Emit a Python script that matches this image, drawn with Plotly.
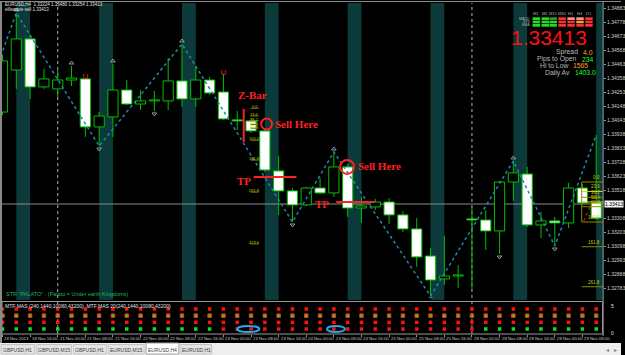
import plotly.graph_objects as go

W, H = 625, 355
def fx(px): return px / W
def fy(py): return 1 - py / H

# ---------------- data ----------------
opens = [1.34103,1.34418,1.34651,1.34291,1.34276,1.34343,1.34351,1.33991,1.34066,1.34268,1.34163,1.34186,1.34186,1.34336,1.34201,1.34343,1.34253,1.34043,1.34036,1.33961,1.33661,1.33511,1.33406,1.33533,1.33496,1.33691,1.33383,1.33391,1.33428,1.33331,1.33226,1.33023,1.32851,1.32873,1.33301,1.33293,1.33211,1.33578,1.33638,1.33256,1.33286,1.33271,1.33533,1.33421]
highs = [1.34531,1.34846,1.34681,1.34426,1.34418,1.34448,1.34358,1.34103,1.34463,1.34343,1.34268,1.34261,1.34508,1.34613,1.34441,1.34366,1.34388,1.34111,1.34051,1.33983,1.33773,1.33533,1.33541,1.33608,1.33803,1.33713,1.33466,1.33451,1.33458,1.33361,1.33308,1.33083,1.33173,1.32956,1.33391,1.33368,1.33586,1.33736,1.33691,1.33353,1.33316,1.33571,1.33563,1.33931]
lows = [1.34081,1.34276,1.34201,1.34276,1.34208,1.34298,1.33916,1.33848,1.33916,1.34156,1.34118,1.34111,1.34118,1.34141,1.34141,1.34231,1.34043,1.33968,1.33946,1.33653,1.33331,1.33278,1.33398,1.33488,1.33466,1.33316,1.33271,1.33368,1.33263,1.33203,1.32941,1.32723,1.32806,1.32783,1.32768,1.33068,1.33038,1.33436,1.33241,1.33158,1.33098,1.33233,1.33406,1.33293]
closes = [1.34486,1.34651,1.34291,1.34351,1.34343,1.34358,1.33991,1.34073,1.34268,1.34163,1.34186,1.34186,1.34336,1.34201,1.34343,1.34246,1.34051,1.34036,1.33961,1.33668,1.33511,1.33406,1.33533,1.33496,1.33691,1.33383,1.33398,1.33428,1.33331,1.33226,1.33016,1.32843,1.32873,1.32873,1.33293,1.33211,1.33578,1.33646,1.33256,1.33286,1.33271,1.33533,1.33421,1.33308]
bid = 1.33413

zz_idx = [-1, 1, 7, 13, 21, 24, 31, 37, 40, 43]
zz_price = [1.34268, 1.34846, 1.33848, 1.34613, 1.33278, 1.33803, 1.32723, 1.33736, 1.33098, 1.33931]
fr_up = [1, 5, 8, 13, 24, 37]
fr_dn = [7, 11, 21, 31, 36, 40]
signal_up = [6, 16]
session_bands = [1, 7, 13, 19, 25, 31, 37, 43]
separators = [4, 34]

fib_ratios1 = [0.0, 23.6, 38.2, 50.0, 61.8, 100.0, 161.8, 261.8, 423.6]
fib1_p0, fib1_p100, fib1_x = 1.34141, 1.33901, 18.26
fib_ratios2 = [0.0, 23.6, 38.2, 50.0, 61.8, 100.0, 161.8, 261.8]
fib2_p0, fib2_p100 = 1.33578, 1.33278

time_labels = ["18 Nov 2013","18 Nov 16:00","21 Nov 00:00","21 Nov 08:00","21 Nov 16:00","22 Nov 00:00",
               "22 Nov 08:00","22 Nov 16:00","23 Nov 00:00","23 Nov 08:00","23 Nov 16:00","24 Nov 00:00",
               "24 Nov 08:00","24 Nov 16:00","25 Nov 00:00","25 Nov 08:00","25 Nov 16:00","28 Nov 00:00",
               "28 Nov 08:00","28 Nov 16:00","29 Nov 00:00","29 Nov 08:00"]
price_ticks = [1.34883,1.34778,1.34673,1.34568,1.34463,1.34358,1.34253,1.34148,1.34043,1.33938,1.33833,
               1.33728,1.33623,1.33518,1.33308,1.33203,1.33098,1.32993,1.32888,1.32783]

row4_state = "G"*16 + "R"*19 + "G"*9   # MTF MAS bottom row
tabs = ["GBPUSD,H1","GBPUSD,M15","GBPUSD,H1","EURUSD,M15","EURUSD,H4","EURUSD,H1"]
tf_labels = ["M1","M5","M15","M30","H1","H4","D1"]
tf_cells = [["#22dd22","#22dd22","#22dd22"],["#22dd22","#22dd22","#22dd22"],["#2e9a2e","#22dd22","#22dd22"],
            ["#ff3030","#ff3030","#ff3030"],["#ff9090","#ff3030","#ff3030"],["#ff9090","#ffa030","#ff3030"],
            ["#ff3030","#ff3030","#ff3030"]]

# ---------------- figure ----------------
S = 0.000075  # price per pixel (style helper for offsets)
n = len(opens)
ks = list(range(n))
GREEN = "#00c000"

fig = go.Figure()

# wicks
wx, wy = [], []
for k in ks:
    top = max(opens[k], closes[k]); bot = min(opens[k], closes[k])
    wx += [k, k, None, k, k, None]
    wy += [highs[k], top, None, bot, lows[k], None]
fig.add_trace(go.Scatter(x=wx, y=wy, mode="lines", line=dict(color=GREEN, width=1), hoverinfo="skip"))

# bodies
bases, heights, fills = [], [], []
for k in ks:
    bases.append(min(opens[k], closes[k]))
    heights.append(max(abs(closes[k] - opens[k]), 0.00008))
    fills.append("#000000" if closes[k] >= opens[k] else "#ffffff")
fig.add_trace(go.Bar(x=ks, y=heights, base=bases, width=0.74,
                     marker=dict(color=fills, line=dict(color=GREEN, width=1))))

# zigzag
fig.add_trace(go.Scatter(x=zz_idx, y=zz_price, mode="lines",
                         line=dict(color="#1d8aa6", width=1.5, dash="dot")))
# fractals
fig.add_trace(go.Scatter(x=fr_up, y=[highs[k] + 3*S for k in fr_up], mode="markers",
                         marker=dict(symbol="triangle-up-open", size=4, color="#9a9a9a", line=dict(width=1))))
fig.add_trace(go.Scatter(x=fr_dn, y=[lows[k] - 3*S for k in fr_dn], mode="markers",
                         marker=dict(symbol="triangle-down-open", size=4, color="#9a9a9a", line=dict(width=1))))
# signals
fig.add_trace(go.Scatter(x=signal_up, y=[highs[k] + 1*S for k in signal_up], mode="text", text=["U"]*len(signal_up),
                         textfont=dict(color="#ff2020", size=8, family="Liberation Sans")))

# indicator rows
for val, cols, lc in [(4, ["#ff1010"]*n, "#ff1010"), (3, ["#30c830"]*n, "#ff3010"), (2, ["#ff1010"]*n, "#ff1010"),
                      (1, ["#10e010" if s == "G" else "#ff1010" for s in row4_state], None)]:
    fig.add_trace(go.Scatter(x=ks, y=[val]*n, mode="markers", xaxis="x2", yaxis="y2",
                             marker=dict(symbol="square", size=3.5, color=cols,
                                         line=dict(color=lc if lc else cols, width=1 if lc == "#ff3010" else 0))))

shapes = []
# session bands
for b in session_bands:
    shapes.append(dict(type="rect", xref="x", yref="paper", x0=b, x1=min(b + 1, 43.5), y0=fy(300), y1=fy(3),
                       fillcolor="#0c3a3a", line=dict(width=0), layer="below"))
# separators
for s_ in separators:
    shapes.append(dict(type="line", xref="x", yref="paper", x0=s_, x1=s_, y0=fy(334), y1=fy(3),
                       line=dict(color="#b0b0b0", width=1, dash="dot"), layer="below"))
# bid line
shapes.append(dict(type="line", xref="paper", yref="y", x0=fx(2), x1=fx(607), y0=bid, y1=bid,
                   line=dict(color="#8a8a8a", width=1), layer="below"))
# Z-bar red vertical
shapes.append(dict(type="line", xref="x", yref="y", x0=17.47, x1=17.47, y0=1.33878, y1=1.34126,
                   line=dict(color="#ff2020", width=2)))
# TP lines
shapes.append(dict(type="line", xref="x", yref="y", x0=18.19, x1=21.29, y0=1.33616, y1=1.33616,
                   line=dict(color="#ff2020", width=2)))
shapes.append(dict(type="line", xref="x", yref="y", x0=24.17, x1=26.98, y0=1.33428, y1=1.33428,
                   line=dict(color="#ff2020", width=2)))
# circles
for cx, cy, r in [(19.13, 1.34013, 5.5), (24.96, 1.33691, 7)]:
    shapes.append(dict(type="circle", xref="x", yref="y", x0=cx - r/13.9, x1=cx + r/13.9,
                       y0=cy - r*S, y1=cy + r*S, line=dict(color="#ff2020", width=2)))
# fib 2 box
fib2_levels = [fib2_p0 - r/100*(fib2_p0 - fib2_p100) for r in fib_ratios2]
for r, p in zip(fib_ratios2, fib2_levels):
    col = "#d8d800" if r in (23.6, 50.0) else "#8a8a00"
    shapes.append(dict(type="line", xref="x", yref="y", x0=41.95, x1=43.5, y0=p, y1=p,
                       line=dict(color=col, width=1)))
shapes.append(dict(type="line", xref="x", yref="y", x0=41.95, x1=41.95, y0=fib2_levels[5], y1=fib2_levels[0],
                   line=dict(color="#8a8a00", width=1)))
shapes.append(dict(type="line", xref="x", yref="y", x0=42.1, x1=42.9, y0=1.33286, y1=1.33473,
                   line=dict(color="#ff2020", width=1, dash="dot")))
# fib 1 underlines
fib1_levels = [fib1_p0 - r/100*(fib1_p0 - fib1_p100) for r in fib_ratios1]
for p in fib1_levels:
    shapes.append(dict(type="line", xref="x", yref="y", x0=fib1_x - 0.3, x1=fib1_x + 0.3, y0=p - 1.5*S, y1=p - 1.5*S,
                       line=dict(color="#6a6a00", width=1)))
# indicator frame
shapes.append(dict(type="rect", xref="paper", yref="paper", x0=fx(2), x1=fx(606.5), y0=fy(334), y1=fy(301.5),
                   line=dict(color="#9a9a9a", width=1)))
# blue ellipses
for cx, rx in [(17.8, 0.8), (24.15, 0.65)]:
    shapes.append(dict(type="circle", xref="x2", yref="y2", x0=cx - rx, x1=cx + rx, y0=0.55, y1=1.45,
                       line=dict(color="#2aa6e6", width=2)))
# window borders, right axis line
shapes.append(dict(type="line", xref="paper", yref="paper", x0=0, x1=1, y0=fy(1.5), y1=fy(1.5),
                   line=dict(color="#8a8a8a", width=1)))
shapes.append(dict(type="line", xref="paper", yref="paper", x0=fx(1), x1=fx(1), y0=fy(343), y1=fy(1.5),
                   line=dict(color="#8a8a8a", width=2)))
shapes.append(dict(type="line", xref="paper", yref="paper", x0=fx(607), x1=fx(607), y0=fy(336), y1=fy(1.5),
                   line=dict(color="#9a9a9a", width=1)))
# tab strip
shapes.append(dict(type="rect", xref="paper", yref="paper", x0=0, x1=1, y0=0, y1=fy(343),
                   fillcolor="#eeeeee", line=dict(width=0)))
tab_edges = [0, 36, 73, 108, 146, 181, 214]
for i, t in enumerate(tabs):
    active = (t == "EURUSD,H4")
    shapes.append(dict(type="rect", xref="paper", yref="paper", x0=fx(tab_edges[i] + 1), x1=fx(tab_edges[i + 1] - 1),
                       y0=fy(354), y1=fy(343 if active else 344.5),
                       fillcolor="#ffffff" if active else "#e4e4e4",
                       line=dict(color="#a0a0a0" if active else "#c4c4c4", width=1)))
# info cells
cell_x = [536, 545, 553, 562, 571, 580, 589]
row_y = [(17.3, 20), (20.7, 23.3), (24, 26.7)]
for ci, cols in enumerate(tf_cells):
    for ri, c in enumerate(cols):
        shapes.append(dict(type="rect", xref="paper", yref="paper", x0=fx(cell_x[ci]), x1=fx(cell_x[ci] + 7.5),
                           y0=fy(row_y[ri][1]), y1=fy(row_y[ri][0]), fillcolor=c, line=dict(width=0)))

ann = []
def A(x, y, text, size=5, color="#d0d0d0", xanchor="left", yanchor="middle", family="Liberation Sans", **kw):
    ann.append(dict(x=x, y=y, xref=kw.pop("xref", "paper"), yref=kw.pop("yref", "paper"), text=text, showarrow=False,
                    xanchor=xanchor, yanchor=yanchor, font=dict(size=size, color=color, family=family), **kw))

SERIF = "Liberation Serif"
A(18.1, 1.34231, "<b>Z-Bar</b>", 11, "#ff2020", "center", xref="x", yref="y", family=SERIF)
A(21.29, 1.34013, "<b>Sell Here</b>", 11, "#ff2020", "center", xref="x", yref="y", family=SERIF)
A(27.27, 1.33698, "<b>Sell Here</b>", 11, "#ff2020", "center", xref="x", yref="y", family=SERIF)
A(17.47, 1.33586, "<b>TP</b>", 11, "#ff2020", "center", xref="x", yref="y", family=SERIF)
A(23.16, 1.33413, "<b>TP</b>", 11, "#ff2020", "center", xref="x", yref="y", family=SERIF)
for r, p in zip(fib_ratios1, fib1_levels):
    A(fib1_x, p, f"{r:.1f}", 4, "#c8c800", "center", xref="x", yref="y")
for r, p in zip(fib_ratios2, fib2_levels):
    A(fx(606), p, f"{r:.1f}", 4.5, "#c8c800", "right", "bottom", yref="y")

# header texts
A(fx(3), fy(4.5), "EURUSD,H4  1.33224 1.33480 1.33254 1.33413", 4.5, "#e0e0e0")
A(fx(3), fy(10), "elliswave sell 1.33413", 4.5, "#e0e0e0")
A(fx(4), fy(294), 'STR "PALATO" : (Palato = Under earth Kingdoms)', 5.5, "#18b858")
A(fx(3), fy(306), "MTF MAS (240,1440,10080,43200)  MTF MAS 20(240,1440,10080,43200)", 5, "#e0e0e0")
A(fx(616), fy(306), "5", 5, "#e0e0e0", "center")
A(fx(616), fy(333), "0", 5, "#e0e0e0", "center")
# info panel
for ci, t in enumerate(tf_labels):
    A(fx(cell_x[ci] + 3.8), fy(14), t, 4, "#b0b0b0", "center")
for ri, t in enumerate(["MACD", "STR", "EMA"]):
    A(fx(535), fy((row_y[ri][0] + row_y[ri][1]) / 2), t, 3.5, "#b0b0b0", "right")
A(fx(593), fy(38), "1.33413", 21, "#ff1010", "right")
info = [("Spread", "4.0", "#ffa020"), ("Pips to Open", "234", "#20ff20"),
        ("Hi to Low", "1565", "#ffa020"), ("Daily Av", "1403.0", "#20ff20")]
info_y = [52, 59, 66, 73]
info_vx = [585, 584, 575, 577]
for (lab, val, col), yy, vx in zip(info, info_y, info_vx):
    A(fx(vx - 1), fy(yy), lab, 6.8, "#b8b8b8", "right")
    A(fx(vx), fy(yy), val, 6.8, col, "left")
# current price box
A(fx(608), bid, "1.33413", 5, "#000000", "left", yref="y", bgcolor="#f2f2f2", borderpad=0)
# time labels
for i, t in enumerate(time_labels):
    A(2 * i, fy(338.5), t, 4.3, "#c8c8c8", "left", xref="x2")
# tabs text
for i, t in enumerate(tabs):
    A(fx((tab_edges[i] + tab_edges[i + 1]) / 2), fy(349.5), t, 5, "#404040", "center")
A(fx(611), fy(349.5), "◂", 6, "#808080", "center")
A(fx(619), fy(349.5), "▸", 6, "#808080", "center")

xr = [-0.18, 43.5]
fig.update_layout(
    width=W, height=H, margin=dict(l=0, r=0, t=0, b=0),
    paper_bgcolor="#000000", plot_bgcolor="#000000", showlegend=False, barmode="overlay",
    xaxis=dict(domain=[0, fx(607)], range=xr, showticklabels=False, showgrid=False, zeroline=False, anchor="y"),
    yaxis=dict(domain=[fy(298), fy(3)], range=[1.32708, 1.349205], side="right", anchor="x",
               tickvals=price_ticks, ticktext=[f"{v:.5f}" for v in price_ticks],
               tickfont=dict(size=5, color="#d0d0d0", family="Liberation Sans"),
               showgrid=False, zeroline=False, ticks="outside", ticklen=2, tickcolor="#9a9a9a"),
    xaxis2=dict(domain=[0, fx(607)], range=xr, anchor="y2", showticklabels=False, showgrid=False, zeroline=False,
                tickvals=[2 * i for i in range(len(time_labels))], ticks="outside", ticklen=2, tickcolor="#9a9a9a"),
    yaxis2=dict(domain=[fy(334), fy(302)], range=[0.25, 5.05], anchor="x2", showticklabels=False,
                showgrid=False, zeroline=False),
    shapes=shapes, annotations=ann,
)
fig.write_html("out.html")
